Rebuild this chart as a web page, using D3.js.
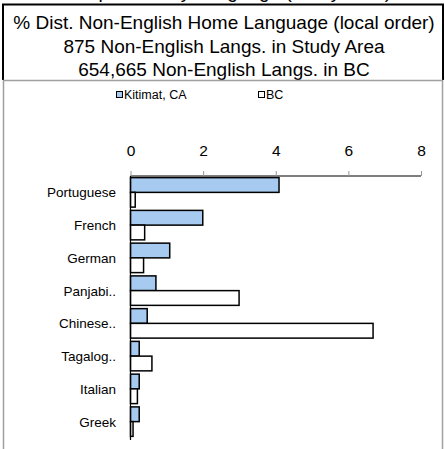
<!DOCTYPE html>
<html>
<head>
<meta charset="utf-8">
<script src="https://cdn.jsdelivr.net/npm/d3@7.9.0/dist/d3.min.js"></script>
<style>
  body { margin: 0; background: #fff; }
  svg { display: block; font-family: "Liberation Sans", Arial, sans-serif; }
</style>
</head>
<body>
<svg id="chart" width="445" height="449"></svg>
<script>
const languages = ['Portuguese', 'French', 'German', 'Panjabi..', 'Chinese..', 'Tagalog..', 'Italian', 'Greek'];
const kitimat = [4.09, 1.99, 1.08, 0.70, 0.46, 0.24, 0.24, 0.24];
const bc = [0.13, 0.39, 0.36, 2.99, 6.68, 0.59, 0.19, 0.07];
const seriesNames = ['Kitimat, CA', 'BC'];
const seriesColors = ['#a6caf0', '#ffffff'];
const xTicks = [0, 2, 4, 6, 8];
const titleLines = [
  '% Dist. Non-English Home Language (local order)',
  '875 Non-English Langs. in Study Area',
  '654,665 Non-English Langs. in BC'
];

const svg = d3.select('#chart');

// cut-off line from the panel above (only descenders show)
svg.append('text')
  .attr('x', 222).attr('y', -2)
  .attr('text-anchor', 'middle')
  .attr('font-size', 19)
  .text('% Population by Language (Study Area)');

// title box
svg.append('path')
  .attr('d', 'M3,80 V4.5 H443 V80')
  .attr('fill', 'none')
  .attr('stroke', '#000')
  .attr('stroke-width', 2);

svg.selectAll('text.title')
  .data(titleLines)
  .join('text')
  .attr('class', 'title')
  .attr('x', 224)
  .attr('y', (d, i) => 29 + i * 23.5)
  .attr('text-anchor', 'middle')
  .attr('font-size', 19)
  .text(d => d);

// chart frame
svg.append('rect')
  .attr('x', 3.5).attr('y', 80.5)
  .attr('width', 439).attr('height', 380)
  .attr('fill', 'none')
  .attr('stroke', '#a0a0a0')
  .attr('stroke-width', 1.5);

// legend
const legendX = [116, 258];
const legend = svg.selectAll('g.legend')
  .data(seriesNames)
  .join('g')
  .attr('class', 'legend')
  .attr('transform', (d, i) => `translate(${legendX[i]},97)`);
legend.append('rect')
  .attr('x', 0.5).attr('y', -5.5)
  .attr('width', 6).attr('height', 6)
  .attr('fill', (d, i) => seriesColors[i])
  .attr('stroke', '#000')
  .attr('stroke-width', 1);
legend.append('text')
  .attr('x', 8).attr('y', 1.5)
  .attr('font-size', 12.5)
  .text(d => d);

// scales
const x = d3.scaleLinear().domain([0, 8]).range([130.5, 421]);
const y = d3.scaleBand().domain(languages).range([176, 438]).paddingInner(0.1).paddingOuter(0.05);
const sub = d3.scaleBand().domain([0, 1]).range([0, y.bandwidth()]);

// top axis
const axis = svg.append('g')
  .attr('transform', 'translate(0,176)')
  .call(d3.axisTop(x).tickValues(xTicks).tickSize(5).tickPadding(15).tickFormat(d3.format('d')));
axis.select('.domain').attr('stroke', '#000').attr('stroke-width', 1.2).attr('d', `M${x(0)},0H${x(8)}`);
axis.selectAll('.tick line').attr('stroke', '#999');
axis.selectAll('.tick text').attr('font-size', 15.5).attr('fill', '#000').attr('font-family', '"Liberation Sans", Arial, sans-serif');

// bars
const groups = svg.selectAll('g.cat')
  .data(languages)
  .join('g')
  .attr('class', 'cat')
  .attr('transform', d => `translate(0,${y(d)})`);

[kitimat, bc].forEach((vals, s) => {
  groups.append('rect')
    .attr('x', x(0))
    .attr('y', sub(s))
    .attr('width', (d, i) => x(vals[i]) - x(0))
    .attr('height', sub.bandwidth())
    .attr('fill', seriesColors[s])
    .attr('stroke', '#000')
    .attr('stroke-width', 1.5);
});

// category labels
groups.append('text')
  .attr('x', 116)
  .attr('y', y.bandwidth() / 2 + 5)
  .attr('text-anchor', 'end')
  .attr('font-size', 13.5)
  .text(d => d);

// left axis line
svg.append('line')
  .attr('x1', x(0)).attr('x2', x(0))
  .attr('y1', 176).attr('y2', 440)
  .attr('stroke', '#000')
  .attr('stroke-width', 1.2);
</script>
</body>
</html>
